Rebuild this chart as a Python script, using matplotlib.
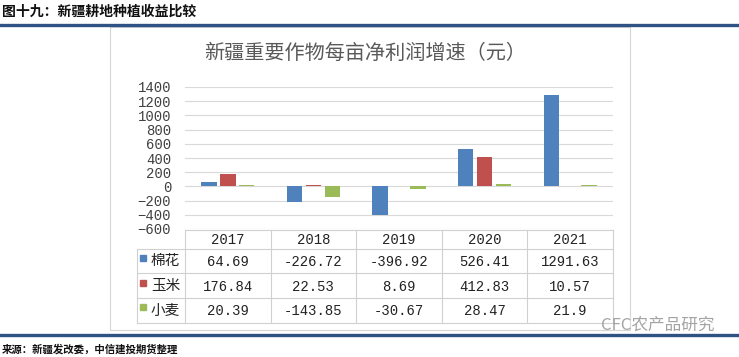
"""Xinjiang crop net profit growth per mu: bar chart with data table below
"""

import numpy as np
import matplotlib
matplotlib.use('Agg')
import matplotlib.pyplot as plt
from matplotlib.lines import Line2D
from matplotlib.patches import Rectangle

plt.rcParams['font.family'] = ['Noto Sans CJK SC', 'DejaVu Sans']

years = ['2017', '2018', '2019', '2020', '2021']
crops = ['棉花', '玉米', '小麦']
cotton = [64.69, -226.72, -396.92, 526.41, 1291.63]
corn = [176.84, 22.53, 8.69, 412.83, 10.57]
wheat = [20.39, -143.85, -30.67, 28.47, 21.9]
colors = ['#4F81BD', '#C0504D', '#9BBB59']
yticks = list(range(-600, 1401, 200))

W, H = 739, 357
NUM_FONT = ['Liberation Mono', 'DejaVu Sans Mono']


def px(x0, y0, x1, y1):
    """pixel box (top-left origin) -> figure fraction rect"""
    return [x0 / W, 1 - y1 / H, (x1 - x0) / W, (y1 - y0) / H]


fig = plt.figure(figsize=(W / 100, H / 100), dpi=100)

# page header / footer
fig.text(2 / W, 1 - 12 / H, '图十九：新疆耕地种植收益比较', fontsize=10,
         fontweight='bold', va='center', ha='left', color='#111111')
fig.text(2 / W, 1 - 349 / H, '来源：新疆发改委，中信建投期货整理', fontsize=7.5,
         fontweight='bold', va='center', ha='left', color='#111111')
for yy in (25, 335):
    fig.add_artist(Line2D([0, 1], [1 - yy / H, 1 - yy / H], color='#2F5284',
                          lw=2.4, transform=fig.transFigure))

# chart frame
fig.add_artist(Rectangle((110 / W, 1 - 330 / H), 520 / W, 303 / H,
                         transform=fig.transFigure, fill=False,
                         edgecolor='#D6D6D6', lw=0.8))
fig.text(365 / W, 1 - 53 / H, '新疆重要作物每亩净利润增速（元）', fontsize=14.5,
         color='#595959', ha='center', va='center')

# bars
ax = fig.add_axes(px(185, 87, 613, 229))
x = np.arange(len(years))
bw, off = 0.18, 0.22
for i, vals in enumerate([cotton, corn, wheat]):
    ax.bar(x + (i - 1) * off, vals, width=bw, color=colors[i], zorder=3)
ax.set_xlim(-0.5, 4.5)
ax.set_ylim(-600, 1400)
ax.set_yticks(yticks)
ax.set_xticks([])
ax.grid(axis='y', color='#D9D9D9', lw=0.8, zorder=0)
for s in ax.spines.values():
    s.set_visible(False)
ax.tick_params(axis='y', length=0, pad=10, labelsize=10, labelcolor='#404040')
for lab in ax.get_yticklabels():
    lab.set_family(NUM_FONT)

# data table
tx = fig.add_axes(px(137, 230, 613, 323))
tx.set_xlim(137, 613)
tx.set_ylim(323, 230)
tx.axis('off')
col_edges = np.linspace(185, 613, len(years) + 1)
row_edges = [230, 249, 273.5, 298, 323]
lc = '#D0D0D0'
tx.plot([185, 613], [230, 230], color=lc, lw=0.8, clip_on=False)
for yy in row_edges[1:]:
    tx.plot([137, 613], [yy, yy], color=lc, lw=0.8, clip_on=False)
tx.plot([137, 137], [249, 323], color=lc, lw=0.8, clip_on=False)
for xx in col_edges:
    tx.plot([xx, xx], [230, 323], color=lc, lw=0.8, clip_on=False)

col_c = (col_edges[:-1] + col_edges[1:]) / 2
for c, yr in zip(col_c, years):
    tx.text(c, (row_edges[0] + row_edges[1]) / 2 + 1, yr, ha='center',
            va='center', fontsize=10, family=NUM_FONT, color='#222222')
for r, (name, vals) in enumerate(zip(crops, [cotton, corn, wheat])):
    yc = (row_edges[r + 1] + row_edges[r + 2]) / 2
    tx.plot([143], [yc - 3], marker='s', ms=4.5, color=colors[r], clip_on=False)
    tx.text(151, yc, name, ha='left', va='center', fontsize=10.5,
            color='#222222')
    for c, v in zip(col_c, vals):
        tx.text(c, yc + 1, f'{v:g}', ha='center', va='center', fontsize=10,
                family=NUM_FONT, color='#222222')

# watermark
fig.text(601 / W, 1 - 325 / H, 'CFC农产品研究', fontsize=12, color='#9A9A9A',
         ha='left', va='center', alpha=0.9)

fig.savefig('out.png', dpi=100)
